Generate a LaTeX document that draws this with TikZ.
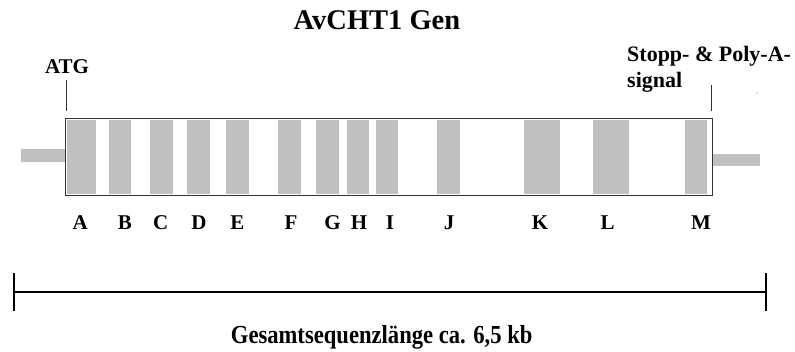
\documentclass[tikz,border=0pt]{standalone}
\usepackage{fontspec}
\setmainfont{Liberation Serif}
\definecolor{exongray}{HTML}{C0C0C0}
\definecolor{rule}{HTML}{333333}
\begin{document}
\begin{tikzpicture}[x=1pt,y=-1pt,
  lbl/.style={font=\fontsize{#1}{#1}\selectfont\bfseries, inner sep=0pt, anchor=base},
  lbl/.default=21,
  exon/.style={fill=exongray, draw=none},
  marker/.style={draw=rule, line width=1pt},
  scalebar/.style={draw=black, line width=2pt}]
\useasboundingbox (0,0) rectangle (795,352);

% title
\node[lbl=28.5] (title) at (377,30) {AvCHT1 Gen};

% untranslated flanks
\fill[exongray] (20.7,149.3) rectangle (65,161.7);
\fill[exongray] (712,154) rectangle (759.7,165.7);

% exons with their letters below the gene body
\foreach \n/\l/\r/\c in {A/66.7/95.7/80.3, B/109/131.3/125, C/150/172.7/160.8,
    D/187/209.7/199, E/226.3/248.7/237.5, F/278.3/301/291, G/316.3/339/332.5,
    H/346.7/369.3/359, I/376/398.3/390, J/436.7/459.7/449, K/524/559.7/540,
    L/593.3/629.3/607.5, M/684.7/707.3/701} {
  \fill[exon] (\l,120) rectangle (\r,194);
  \node[lbl] (ex\n) at (\c,230) {\n};
}

% gene body outline
\draw[draw=rule, line width=1pt] (65,118.5) rectangle (712,195.5);

% start codon marker
\node[lbl] (atg) at (67,74) {ATG};
\coordinate (atgtop) at (66.7,80);
\coordinate (atgbot) at (66.7,111);
\draw[marker] (atgtop) -- (atgbot);

% stop codon and polyadenylation signal marker
\node[lbl=22, anchor=base west] (stop1) at (627,61.7) {Stopp- \& Poly-A-};
\node[lbl=22, anchor=base west] (stop2) at (627,88) {signal};
\coordinate (stoptop) at (711,85);
\coordinate (stopbot) at (711,111);
\draw[marker] (stoptop) -- (stopbot);
\fill[gray] (757,93) circle (0.6);

% total length scale bar
\coordinate (barL) at (14,292);
\coordinate (barR) at (766,292);
\draw[scalebar] (barL) -- (barR);
\draw[scalebar, line width=2.5pt] (14,273) -- (14,311);
\draw[scalebar, line width=2.5pt] (766,273) -- (766,311);
\node[lbl=26, xscale=0.87] (total) at (381.7,343.3) {Gesamtsequenzlänge ca. 6,5 kb};
\end{tikzpicture}
\end{document}
